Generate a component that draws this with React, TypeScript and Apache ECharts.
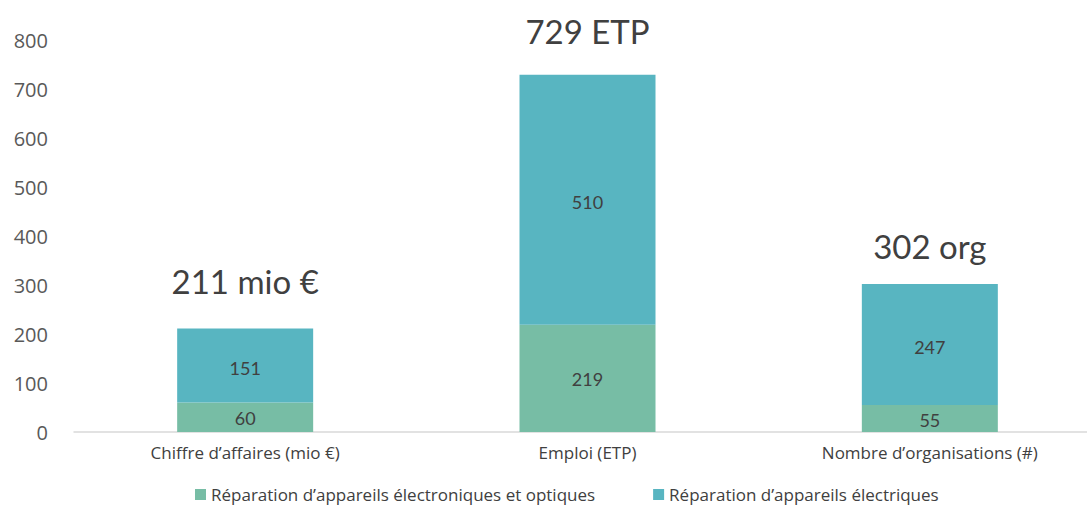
import React, { useEffect, useRef } from "react";
import * as echarts from "echarts";

const categories = ["Chiffre d’affaires (mio €)", "Emploi (ETP)", "Nombre d’organisations (#)"];
const seriesNames = ["Réparation d’appareils électroniques et optiques", "Réparation d’appareils électriques"];
const electroniques = [60, 219, 55];
const electriques = [151, 510, 247];
const totalLabels = ["211 mio €", "729 ETP", "302 org"];
const totalDistances = [31, 27, 22];
const yTicks = [0, 100, 200, 300, 400, 500, 600, 700, 800];

const FONT = "Lato, 'Open Sans', sans-serif";
const FONT2 = "'Open Sans', Lato, sans-serif";

export default function App() {
  const ref = useRef<HTMLDivElement>(null);
  useEffect(() => {
    const chart = echarts.init(ref.current!, null, { renderer: "svg" });
    chart.setOption({
      animation: false,
      textStyle: { fontFamily: FONT },
      grid: { left: 74, right: 0, top: 40, bottom: 75, containLabel: false },
      legend: {
        bottom: -1,
        left: 190,
        itemWidth: 11,
        itemHeight: 11,
        itemGap: 58,
        icon: "rect",
        textStyle: { fontSize: 17, color: "#404040", fontFamily: FONT2 },
        data: seriesNames,
      },
      xAxis: {
        type: "category",
        data: categories,
        axisLine: { show: true, lineStyle: { color: "#d9d9d9", width: 1.5 } },
        axisTick: { show: false },
        axisLabel: { fontSize: 17, color: "#404040", margin: 12, fontFamily: FONT2 },
      },
      yAxis: {
        type: "value",
        min: yTicks[0],
        max: yTicks[yTicks.length - 1],
        interval: 100,
        axisLine: { show: false },
        axisTick: { show: false },
        splitLine: { show: false },
        axisLabel: { fontSize: 20, color: "#595959", margin: 26, fontFamily: FONT2 },
      },
      series: [
        {
          name: seriesNames[0],
          type: "bar",
          stack: "total",
          barWidth: 136,
          itemStyle: { color: "#77BDA5" },
          label: { show: true, position: "inside", fontSize: 18, color: "#404040", fontFamily: FONT, offset: [0, 1] },
          data: electroniques,
        },
        {
          name: seriesNames[1],
          type: "bar",
          stack: "total",
          barWidth: 136,
          itemStyle: { color: "#58B5C1" },
          label: { show: true, position: "inside", fontSize: 18, color: "#404040", fontFamily: FONT, offset: [0, 2] },
          data: electriques,
        },
        {
          name: "total",
          type: "bar",
          stack: "total",
          barWidth: 136,
          itemStyle: { color: "transparent" },
          silent: true,
          label: { show: false },
          data: totalLabels.map((t, i) => ({
            value: 0,
            label: {
              show: true,
              position: "top",
              distance: totalDistances[i],
              formatter: t,
              fontSize: 33,
              color: "#404040",
              fontFamily: FONT,
            },
          })),
        },
      ],
    });
    return () => chart.dispose();
  }, []);
  return (
    <div style={{ position: "fixed", left: 0, top: 0, width: 1087, height: 507, background: "#fff", overflow: "hidden" }}>
      <div ref={ref} style={{ width: 1101, height: 507 }} />
    </div>
  );
}
